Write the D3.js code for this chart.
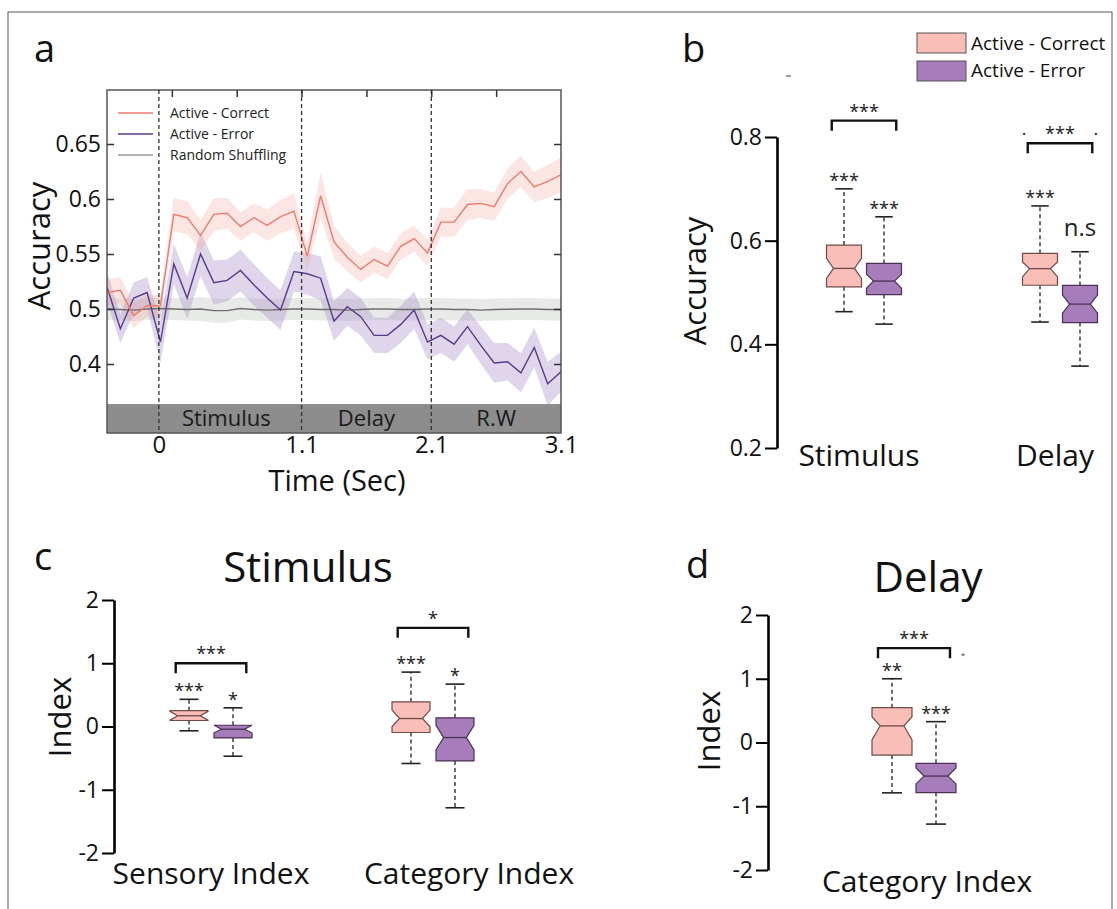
<!DOCTYPE html>
<html>
<head>
<meta charset="utf-8">
<script src="https://cdn.jsdelivr.net/npm/d3@7"></script>
<style>
  body { margin: 0; background: #fff; }
  svg { font-family: 'Open Sans', 'DejaVu Sans', sans-serif; }
</style>
</head>
<body>
<svg id="figure" width="1117" height="909"></svg>
<script>
// ---- panel a: decoding accuracy over time ----
const times = [-0.4, -0.297, -0.194, -0.091, 0.012, 0.115, 0.218, 0.321, 0.424, 0.526, 0.629, 0.732,
  0.835, 0.938, 1.041, 1.144, 1.247, 1.35, 1.453, 1.556, 1.659, 1.762, 1.865, 1.968, 2.071, 2.174,
  2.276, 2.379, 2.482, 2.585, 2.688, 2.791, 2.894, 2.997, 3.1]
const correctMean = [0.515, 0.517, 0.494, 0.503, 0.503, 0.586, 0.583, 0.567, 0.586, 0.587, 0.575, 0.583,
  0.576, 0.584, 0.589, 0.548, 0.603, 0.561, 0.547, 0.536, 0.545, 0.539, 0.557, 0.564, 0.551, 0.579,
  0.579, 0.595, 0.596, 0.593, 0.614, 0.625, 0.611, 0.616, 0.622]
const correctSem = [0.012, 0.012, 0.011, 0.010, 0.010, 0.015, 0.015, 0.014, 0.015, 0.014, 0.013, 0.013,
  0.014, 0.015, 0.016, 0.012, 0.021, 0.015, 0.013, 0.012, 0.012, 0.012, 0.012, 0.012, 0.012, 0.013,
  0.013, 0.014, 0.013, 0.013, 0.014, 0.014, 0.014, 0.015, 0.016]
const errorMean = [0.520, 0.482, 0.510, 0.515, 0.470, 0.541, 0.510, 0.550, 0.524, 0.526, 0.535, 0.522,
  0.510, 0.499, 0.534, 0.532, 0.528, 0.489, 0.502, 0.493, 0.476, 0.476, 0.486, 0.499, 0.470, 0.476,
  0.468, 0.484, 0.467, 0.451, 0.452, 0.442, 0.465, 0.432, 0.443]
const errorSem = [0.014, 0.013, 0.014, 0.014, 0.019, 0.018, 0.019, 0.020, 0.020, 0.019, 0.019, 0.019,
  0.018, 0.018, 0.018, 0.019, 0.020, 0.018, 0.017, 0.017, 0.016, 0.016, 0.017, 0.017, 0.016, 0.016,
  0.016, 0.016, 0.017, 0.018, 0.017, 0.018, 0.018, 0.020, 0.018]
const shuffleMean = [0.500, 0.4995, 0.499, 0.500, 0.5005, 0.500, 0.4995, 0.500, 0.4985, 0.4985, 0.5005, 0.4995,
  0.499, 0.4995, 0.500, 0.500, 0.4995, 0.4995, 0.499, 0.4995, 0.500, 0.500, 0.4995, 0.4995, 0.500, 0.500,
  0.4995, 0.4995, 0.499, 0.4995, 0.4998, 0.500, 0.500, 0.4995, 0.4995]
const shuffleSem = [0.010, 0.010, 0.010, 0.010, 0.010, 0.010, 0.010, 0.011, 0.011, 0.011, 0.010, 0.010,
  0.010, 0.010, 0.010, 0.010, 0.010, 0.010, 0.010, 0.010, 0.010, 0.010, 0.010, 0.010, 0.010, 0.010,
  0.010, 0.010, 0.010, 0.010, 0.010, 0.010, 0.010, 0.010, 0.010]
const epochMarks = [0, 1.1, 2.1]
const epochNames = ['Stimulus', 'Delay', 'R.W']
const epochCenters = [0.52, 1.6, 2.6]
const xTicksA = [0, 1.1, 2.1, 3.1]
const xTopTicksA = [0.1, 0.6, 1.1, 1.6, 2.1, 2.6]
const yTicksA = [0.45, 0.5, 0.55, 0.6, 0.65]
const yTickLabelsA = ['0.4', '0.5', '0.55', '0.6', '0.65']
const legendA = ['Active - Correct', 'Active - Error', 'Random Shuffling']

// ---- panels b-d: box stats [whisker low, q1, notch low, median, notch high, q3, whisker high] ----
const groups = ['Active - Correct', 'Active - Error']
const periodsB = ['Stimulus', 'Delay']
const stimulusCorrect = [0.463, 0.511, 0.527, 0.5465, 0.566, 0.5915, 0.700]
const stimulusError = [0.439, 0.496, 0.508, 0.522, 0.535, 0.556, 0.646]
const delayCorrect = [0.443, 0.514, 0.530, 0.546, 0.559, 0.5755, 0.667]
const delayError = [0.358, 0.442, 0.460, 0.4776, 0.495, 0.5137, 0.5786]
const starsB = [['***', '***'], ['***', 'n.s']]
const pairStarsB = ['***', '·    ***    ·']
const yTicksB = [0.2, 0.4, 0.6, 0.8]

const indicesC = ['Sensory Index', 'Category Index']
const sensoryCorrect = [-0.068, 0.095, 0.10, 0.17, 0.24, 0.25, 0.43]
const sensoryError = [-0.47, -0.18, -0.10, -0.043, 0.02, 0.02, 0.295]
const categoryCorrect = [-0.585, -0.095, 0.0, 0.126, 0.26, 0.39, 0.86]
const categoryError = [-1.285, -0.545, -0.37, -0.175, 0.02, 0.137, 0.67]
const starsC = [['***', '*'], ['***', '*']]
const pairStarsC = ['***', '*']

const indicesD = ['Category Index']
const delayCategoryCorrect = [-0.79, -0.197, 0.04, 0.26, 0.405, 0.547, 1.0]
const delayCategoryError = [-1.28, -0.785, -0.65, -0.527, -0.40, -0.327, 0.327]
const starsD = [['**', '***']]
const pairStarsD = ['***']
const yTicksIndex = [-2, -1, 0, 1, 2]

const colors = {
  correctLine: '#f07a6c', correctBand: '#f6a59c',
  errorLine: '#5a3a8c', errorBand: '#a88cc8',
  shuffleLine: '#6e6e6e', shuffleBand: '#c9d0c9',
  correctBox: '#f8beb7', correctEdge: '#6e4b47',
  errorBox: '#a67cba', errorEdge: '#4b3157'
}

const svg = d3.select('#figure')

// outer figure border
svg.append('rect')
  .attr('x', 8).attr('y', 12).attr('width', 1104).attr('height', 910)
  .style('fill', 'none').style('stroke', '#555').style('stroke-width', 1)

function panelLetter (txt, x, y) {
  svg.append('text').attr('x', x).attr('y', y)
    .style('font-size', '38px').style('fill', '#111').text(txt)
}

function styleAxisText (g, size) {
  g.attr('font-family', null).attr('font-size', null)
  g.selectAll('text').style('font-size', size + 'px').style('fill', '#111')
}

// ---------- panel a ----------
function plotTimeCourse () {
  const left = 107, right = 561, top = 90, bandTop = 404, bandBottom = 433
  const x = d3.scaleLinear().domain([-0.4, 3.1]).range([left, right])
  const y = d3.scaleLinear().domain([0.45, 0.65]).range([364, 144])
  const g = svg.append('g').attr('class', 'panel-a')

  g.append('clipPath').attr('id', 'clip-a')
    .append('rect').attr('x', left).attr('y', top).attr('width', right - left).attr('height', bandTop - top)

  const plot = g.append('g').attr('clip-path', 'url(#clip-a)')
  const series = [
    { mean: shuffleMean, sem: shuffleSem, line: colors.shuffleLine, band: colors.shuffleBand, op: 0.45 },
    { mean: errorMean, sem: errorSem, line: colors.errorLine, band: colors.errorBand, op: 0.36 },
    { mean: correctMean, sem: correctSem, line: colors.correctLine, band: colors.correctBand, op: 0.28 }
  ]
  // shaded error bands
  series.forEach(s => {
    const area = d3.area()
      .x((d, i) => x(times[i]))
      .y0((d, i) => y(d - s.sem[i]))
      .y1((d, i) => y(d + s.sem[i]))
    plot.append('path').attr('d', area(s.mean))
      .style('fill', s.band).style('fill-opacity', s.op)
  })
  // mean lines
  series.forEach(s => {
    const line = d3.line().x((d, i) => x(times[i])).y(d => y(d))
    plot.append('path').attr('d', line(s.mean))
      .style('fill', 'none').style('stroke', s.line).style('stroke-width', 1.4)
  })

  // epoch band
  g.append('rect').attr('x', left).attr('y', bandTop).attr('width', right - left).attr('height', bandBottom - bandTop)
    .style('fill', '#8d8d8d')
  epochNames.forEach((n, i) => {
    g.append('text').attr('x', x(epochCenters[i])).attr('y', 426)
      .attr('text-anchor', 'middle').style('font-size', '22px').style('fill', '#1a1a1a').text(n)
  })

  // frame
  g.append('rect').attr('x', left).attr('y', top).attr('width', right - left).attr('height', bandBottom - top)
    .style('fill', 'none').style('stroke', '#555').style('stroke-width', 1.5)

  // epoch onset lines
  epochMarks.forEach(t => {
    g.append('line').attr('x1', x(t)).attr('x2', x(t)).attr('y1', top).attr('y2', bandBottom)
      .style('stroke', '#333').style('stroke-width', 1.3).style('stroke-dasharray', '4,3')
  })

  // axes
  const yl = g.append('g').attr('transform', `translate(${left},0)`)
    .call(d3.axisLeft(y).tickValues(yTicksA).tickFormat((d, i) => yTickLabelsA[i]).tickSize(-7).tickSizeOuter(0).tickPadding(6))
  yl.select('.domain').remove()
  yl.selectAll('line').style('stroke', '#333').style('stroke-width', 1.5)
  styleAxisText(yl, 23)

  const yr = g.append('g').attr('transform', `translate(${right},0)`)
    .call(d3.axisRight(y).tickValues(yTicksA).tickFormat('').tickSize(-7).tickSizeOuter(0))
  yr.select('.domain').remove()
  yr.selectAll('line').style('stroke', '#333').style('stroke-width', 1.5)

  const xt = g.append('g').attr('transform', `translate(0,${top})`)
    .call(d3.axisTop(x).tickValues(xTopTicksA).tickFormat('').tickSize(-7).tickSizeOuter(0))
  xt.select('.domain').remove()
  xt.selectAll('line').style('stroke', '#333').style('stroke-width', 1.5)

  const xb = g.append('g').attr('transform', `translate(0,${bandBottom})`)
    .call(d3.axisBottom(x).tickValues(xTicksA).tickFormat(d => String(d)).tickSize(0).tickPadding(3))
  xb.select('.domain').remove()
  styleAxisText(xb, 24)

  // legend
  const legendColors = [colors.correctLine, colors.errorLine, '#9a9a9a']
  legendA.forEach((name, i) => {
    const ly = 113 + i * 21
    g.append('line').attr('x1', 118).attr('x2', 153).attr('y1', ly).attr('y2', ly)
      .style('stroke', legendColors[i]).style('stroke-width', 1.4)
    g.append('text').attr('x', 170).attr('y', ly + 5)
      .style('font-size', '14px').style('fill', '#222').text(name)
  })

  // axis titles
  g.append('text').attr('transform', 'translate(50,246) rotate(-90)')
    .attr('text-anchor', 'middle').style('font-size', '31px').style('fill', '#111').text('Accuracy')
  g.append('text').attr('x', 337).attr('y', 491)
    .attr('text-anchor', 'middle').style('font-size', '29px').style('fill', '#111').text('Time (Sec)')
}

// ---------- box panels ----------
function drawBox (g, cx, w, s, y, fill, edge) {
  const [lo, q1, nLo, med, nHi, q3, hi] = s
  const l = cx - w / 2, r = cx + w / 2, inset = w * 0.2
  // whiskers
  g.append('line').attr('x1', cx).attr('x2', cx).attr('y1', y(q3)).attr('y2', y(hi))
    .style('stroke', '#222').style('stroke-width', 1.3).style('stroke-dasharray', '4,3')
  g.append('line').attr('x1', cx).attr('x2', cx).attr('y1', y(q1)).attr('y2', y(lo))
    .style('stroke', '#222').style('stroke-width', 1.3).style('stroke-dasharray', '4,3')
  ;[lo, hi].forEach(v => {
    g.append('line').attr('x1', cx - w / 4).attr('x2', cx + w / 4).attr('y1', y(v)).attr('y2', y(v))
      .style('stroke', '#222').style('stroke-width', 1.6)
  })
  // notched box
  const pts = [[l, y(q3)], [l, y(nHi)], [l + inset, y(med)], [l, y(nLo)], [l, y(q1)],
    [r, y(q1)], [r, y(nLo)], [r - inset, y(med)], [r, y(nHi)], [r, y(q3)]]
  g.append('path').attr('d', d3.line()(pts) + 'Z')
    .style('fill', fill).style('stroke', edge).style('stroke-width', 1.2)
  g.append('line').attr('x1', l + inset).attr('x2', r - inset).attr('y1', y(med)).attr('y2', y(med))
    .style('stroke', edge).style('stroke-width', 1.3)
}

function boxPanel (cfg) {
  const g = svg.append('g')
  const y = d3.scaleLinear().domain(cfg.domain).range(cfg.range)
  const x = d3.scalePoint().domain(cfg.categories).range(cfg.xRange)

  const ax = g.append('g').attr('transform', `translate(${cfg.axisX},0)`)
    .call(d3.axisLeft(y).tickValues(cfg.ticks).tickFormat(d => String(d)).tickSize(12).tickSizeOuter(0).tickPadding(3))
  ax.select('.domain').style('stroke', '#000').style('stroke-width', 2.6)
  ax.selectAll('.tick line').style('stroke', '#000').style('stroke-width', 2)
  styleAxisText(ax, 23)

  cfg.categories.forEach((c, ci) => {
    const cx = x(c)
    const centers = [cx - cfg.offset, cx + cfg.offset]
    cfg.boxes[ci].forEach((s, gi) => {
      drawBox(g, centers[gi], cfg.boxWidth, s, y,
        gi === 0 ? colors.correctBox : colors.errorBox,
        gi === 0 ? colors.correctEdge : colors.errorEdge)
      const label = cfg.stars[ci][gi]
      const isStar = label.indexOf('*') >= 0
      g.append('text').attr('x', centers[gi]).attr('y', y(s[6]) - (isStar ? 2 : 16))
        .attr('text-anchor', 'middle').style('font-size', isStar ? '18px' : '24px')
        .style('fill', '#222').text(label)
    })
    // comparison bracket
    const by = y(cfg.bracketLevels[ci])
    const bx0 = centers[0] - cfg.boxWidth * 0.35, bx1 = centers[1] + cfg.boxWidth * 0.35
    g.append('path').attr('d', d3.line()([[bx0, by + 10], [bx0, by], [bx1, by], [bx1, by + 10]]))
      .style('fill', 'none').style('stroke', '#111').style('stroke-width', 2.4)
    g.append('text').attr('x', (bx0 + bx1) / 2).attr('y', by - 3)
      .attr('text-anchor', 'middle').style('font-size', '18px').style('white-space', 'pre')
      .style('fill', '#222').text(cfg.pairStars[ci])
    // category label
    g.append('text').attr('x', cx + cfg.labelShift[ci]).attr('y', cfg.labelY)
      .attr('text-anchor', 'middle').style('font-size', '30px').style('fill', '#111').text(c)
  })

  g.append('text').attr('transform', `translate(${cfg.titleX},${cfg.titleY}) rotate(-90)`)
    .attr('text-anchor', 'middle').style('font-size', '31px').style('fill', '#111').text(cfg.yTitle)
  if (cfg.heading) {
    g.append('text').attr('x', cfg.heading[1]).attr('y', cfg.heading[2])
      .attr('text-anchor', 'middle').style('font-size', '42px').style('fill', '#111').text(cfg.heading[0])
  }
}

plotTimeCourse()

// panel b
boxPanel({
  domain: [0.2, 0.8], range: [448, 137], ticks: yTicksB, axisX: 777,
  categories: periodsB, xRange: [864, 1060], offset: 20, boxWidth: 35,
  boxes: [[stimulusCorrect, stimulusError], [delayCorrect, delayError]],
  stars: starsB, pairStars: pairStarsB, bracketLevels: [0.8315, 0.788],
  labelY: 466, labelShift: [-5, -5], yTitle: 'Accuracy', titleX: 706, titleY: 281
})
// panel b legend
groups.forEach((name, i) => {
  svg.append('rect').attr('x', 917).attr('y', 33 + i * 28).attr('width', 49).attr('height', 20)
    .style('fill', i === 0 ? colors.correctBox : colors.errorBox).style('stroke', '#555').style('stroke-width', 1)
  svg.append('text').attr('x', 971).attr('y', 50 + i * 27)
    .style('font-size', '19px').style('fill', '#111').text(name)
})
svg.append('line').attr('x1', 786).attr('x2', 791).attr('y1', 76).attr('y2', 76)
  .style('stroke', '#444').style('stroke-width', 1)

// panel c
boxPanel({
  domain: [-2, 2], range: [853, 600], ticks: yTicksIndex, axisX: 114,
  categories: indicesC, xRange: [211, 433], offset: 22, boxWidth: 38,
  boxes: [[sensoryCorrect, sensoryError], [categoryCorrect, categoryError]],
  stars: starsC, pairStars: pairStarsC, bracketLevels: [1.0, 1.56],
  labelY: 884, labelShift: [0, 36], yTitle: 'Index', titleX: 71, titleY: 717,
  heading: ['Stimulus', 308, 582]
})

// panel d
boxPanel({
  domain: [-2, 2], range: [870, 615], ticks: yTicksIndex, axisX: 768,
  categories: indicesD, xRange: [914, 914], offset: 22, boxWidth: 40,
  boxes: [[delayCategoryCorrect, delayCategoryError]],
  stars: starsD, pairStars: pairStarsD, bracketLevels: [1.48],
  labelY: 892, labelShift: [13], yTitle: 'Index', titleX: 720, titleY: 731,
  heading: ['Delay', 928, 592]
})
svg.append('text').attr('x', 963).attr('y', 658).attr('text-anchor', 'middle')
  .style('font-size', '8px').style('fill', '#444').text('*')

panelLetter('a', 34, 62)
panelLetter('b', 682, 62)
panelLetter('c', 34, 570)
panelLetter('d', 686, 578)
</script>
</body>
</html>
